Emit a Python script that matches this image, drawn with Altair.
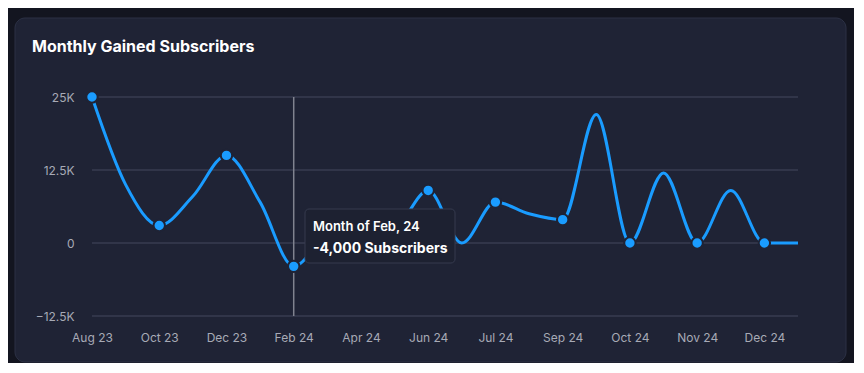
import altair as alt
import pandas as pd

# ---- data ----
point_index = list(range(22))
subscribers = [25000, 10000, 3000, 8000, 15000, 7000, -4000, 1000, 1500, 2500,
               9000, 0, 7000, 5000, 4000, 22000, 0, 12000, 0, 9000, 0, 0]
tick_labels = ["Aug 23", "Oct 23", "Dec 23", "Feb 24", "Apr 24", "Jun 24",
               "Jul 24", "Sep 24", "Oct 24", "Nov 24", "Dec 24"]
tick_index = [0, 2, 4, 6, 8, 10, 12, 14, 16, 18, 20]
y_ticks = [-12500, 0, 12500, 25000]
highlight = 6
tooltip_lines = ["Month of Feb, 24", "-4,000 Subscribers"]
title_text = "Monthly Gained Subscribers"

W, H = 706, 219
BG = "#131520"
CARD = "#1f2335"
BLUE = "#1a9cff"
LABEL = "#a7aab6"
FONT = "Inter"

df = pd.DataFrame({"i": point_index, "v": subscribers})
markers = df[df["i"].isin(tick_index)]
hl = df[df["i"] == highlight]
one = pd.DataFrame({"a": [0]})

label_arr = "[" + ",".join("'" + t + "'" for t in tick_labels) + "]"

xs = alt.Scale(domain=[0, 21], nice=False, zero=False)
ys = alt.Scale(domain=[-12500, 25000], nice=False, zero=False)

x_axis = alt.Axis(
    values=tick_index, labelExpr=label_arr + "[datum.value/2]",
    grid=False, ticks=False, tickSize=0, domain=False, labelPadding=16,
    labelColor=LABEL, labelFont=FONT, labelFontSize=12, title=None,
    zindex=1, labelFlush=False, labelOverlap=False)
y_axis = alt.Axis(
    values=y_ticks,
    labelExpr="datum.value == 0 ? '0' : format(datum.value/1000, '~g') + 'K'",
    grid=False, ticks=False, tickSize=0, domain=False, labelPadding=18,
    labelColor=LABEL, labelFont=FONT, labelFontSize=12, title=None,
    zindex=1)

card = alt.Chart(one).mark_rect(
    fill=CARD, stroke="#2c3145", strokeWidth=1, cornerRadius=10
).encode(x=alt.value(-77), x2=alt.value(754), y=alt.value(-79), y2=alt.value(265))

title = alt.Chart(one).mark_text(
    align="left", baseline="alphabetic", font=FONT, fontSize=16,
    fontWeight="bold", color="#ffffff"
).encode(x=alt.value(-60), y=alt.value(-45), text=alt.value(title_text))

grid = alt.Chart(pd.DataFrame({"g": y_ticks})).mark_rule(
    color="#393d50", strokeWidth=1.5
).encode(y=alt.Y("g:Q", scale=ys, axis=y_axis))

vrule = alt.Chart(hl).mark_rule(color="#80838f", strokeWidth=1.5).encode(
    x=alt.X("i:Q", scale=xs, axis=x_axis), y=alt.value(0), y2=alt.value(H)
)

line = alt.Chart(df).mark_line(
    interpolate="monotone", color=BLUE, strokeWidth=3
).encode(
    x=alt.X("i:Q", scale=xs, axis=x_axis),
    y=alt.Y("v:Q", scale=ys, axis=y_axis),
)

pts = alt.Chart(markers).mark_point(
    filled=True, fill=BLUE, stroke=CARD, strokeWidth=2, size=130, opacity=1
).encode(x=alt.X("i:Q", scale=xs, axis=x_axis), y=alt.Y("v:Q", scale=ys, axis=y_axis))

tip_box = alt.Chart(one).mark_rect(
    fill="#1d2131", stroke="#363b4f", strokeWidth=1, cornerRadius=4
).encode(x=alt.value(213), x2=alt.value(363), y=alt.value(112), y2=alt.value(166))

tip1 = alt.Chart(one).mark_text(
    align="left", baseline="alphabetic", font=FONT, fontSize=13,
    fontWeight=600, color="#ffffff"
).encode(x=alt.value(221), y=alt.value(134), text=alt.value(tooltip_lines[0]))

tip2 = alt.Chart(one).mark_text(
    align="left", baseline="alphabetic", font=FONT, fontSize=14,
    fontWeight="bold", color="#ffffff"
).encode(x=alt.value(221), y=alt.value(156), text=alt.value(tooltip_lines[1]))

chart = alt.layer(
    card, title, grid, vrule, line, pts, tip_box, tip1, tip2
).properties(
    width=W, height=H,
    autosize=alt.AutoSizeParams(type="none"),
    padding={"left": 84, "top": 89, "right": 56, "bottom": 47},
    background=BG,
).configure_view(stroke=None, clip=False)

chart.save("out.html", embed_options={"renderer": "svg", "actions": False})
